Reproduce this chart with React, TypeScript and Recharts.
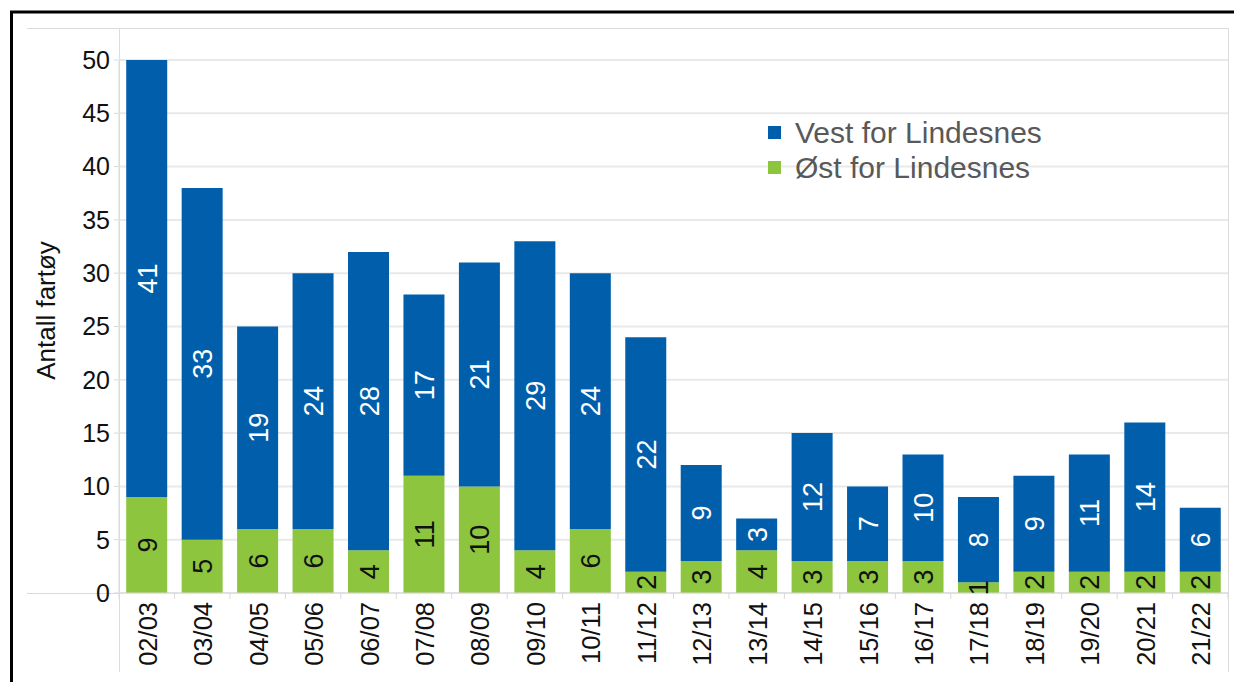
import { Bar, BarChart, CartesianGrid, LabelList, XAxis, YAxis } from 'recharts';

const seasons = [
  '02/03', '03/04', '04/05', '05/06', '06/07', '07/08', '08/09', '09/10', '10/11', '11/12',
  '12/13', '13/14', '14/15', '15/16', '16/17', '17/18', '18/19', '19/20', '20/21', '21/22',
];
const vest = [41, 33, 19, 24, 28, 17, 21, 29, 24, 22, 9, 3, 12, 7, 10, 8, 9, 11, 14, 6];
const ost = [9, 5, 6, 6, 4, 11, 10, 4, 6, 2, 3, 4, 3, 3, 3, 1, 2, 2, 2, 2];
const yTicks = [0, 5, 10, 15, 20, 25, 30, 35, 40, 45, 50];

const data = seasons.map((s, i) => ({ season: s, vest: vest[i], ost: ost[i] }));

const BLUE = '#005EAB';
const GREEN = '#8DC53F';
const FONT = '"Liberation Sans", Arial, sans-serif';

const W = 1234;
const H = 682;
const X_AXIS_H = 89;
const Y_AXIS_W = 119;
const margin = { top: 60, right: 6, bottom: 0, left: 0 };
const band = (W - margin.right - Y_AXIS_W) / seasons.length;

const SeasonTick = (props: any) => {
  const { x, y, payload, index } = props;
  const left = x - band / 2;
  return (
    <g>
      <line x1={left} y1={y - 8} x2={left} y2={y - 2} stroke='#d9d9d9' />
      {index === seasons.length - 1 && (
        <line x1={left + band} y1={y - 8} x2={left + band} y2={y - 2} stroke='#d9d9d9' />
      )}
      <text
        transform={`translate(${x + 10},${y + 1}) rotate(-90)`}
        textAnchor='end'
        fontSize={25.5}
        fontFamily={FONT}
        fill='#111'
      >
        {payload.value}
      </text>
    </g>
  );
};

const segLabel = (color: string) => (props: any) => {
  const { x, y, width, height, value } = props;
  const cx = x + width / 2;
  const cy = y + height / 2;
  return (
    <text
      transform={`translate(${cx + 1},${cy}) rotate(-90)`}
      textAnchor='middle'
      dominantBaseline='central'
      fontSize={27}
      fontFamily={FONT}
      fill={color}
    >
      {value}
    </text>
  );
};

const legendItems = [
  { name: 'Vest for Lindesnes', color: BLUE },
  { name: 'Øst for Lindesnes', color: GREEN },
];

const LegendBox = () => (
  <div style={{ position: 'absolute', left: 768, top: 115, fontFamily: FONT, fontSize: 30, color: '#595959' }}>
    {legendItems.map((it) => (
      <div key={it.name} style={{ display: 'flex', alignItems: 'center', height: 35 }}>
        <span style={{ width: 13, height: 13, background: it.color, marginRight: 14, display: 'inline-block' }} />
        <span>{it.name}</span>
      </div>
    ))}
  </div>
);

const YLabel = (props: any) => {
  const { viewBox } = props;
  const cy = viewBox.y + viewBox.height / 2 - 16;
  return (
    <text
      transform={`translate(55,${cy}) rotate(-90)`}
      textAnchor='middle'
      fontSize={26}
      fontFamily={FONT}
      fill='#111'
    >
      Antall fartøy
    </text>
  );
};

export default function App() {
  return (
    <div style={{ position: 'absolute', left: 0, top: 0, width: W, height: H, background: '#fff', overflow: 'hidden' }}>
      <svg width={W} height={H} style={{ position: 'absolute', left: 0, top: 0 }}>
        <line x1={10} y1={12} x2={W} y2={12} stroke='#000' strokeWidth={3} />
        <line x1={11.5} y1={11} x2={11.5} y2={H} stroke='#000' strokeWidth={3} />
        <line x1={27} y1={28.5} x2={1228.5} y2={28.5} stroke='#dcdcdc' />
        <line x1={1228.5} y1={28} x2={1228.5} y2={672} stroke='#dcdcdc' />
        <line x1={119.5} y1={28} x2={119.5} y2={672} stroke='#dcdcdc' />
        <line x1={27} y1={593.5} x2={1228} y2={593.5} stroke='#d9d9d9' />
      </svg>
      <div style={{ position: 'absolute', left: 0, top: 0 }}>
        <BarChart width={W} height={H} data={data} margin={margin} barCategoryGap='13%'>
          <CartesianGrid vertical={false} stroke='#e9e9e9' strokeWidth={2} />
          <XAxis
            dataKey='season'
            interval={0}
            tickLine={false}
            axisLine={{ stroke: '#d9d9d9' }}
            tick={<SeasonTick />}
            height={X_AXIS_H}
          />
          <YAxis
            width={Y_AXIS_W}
            domain={[0, 50]}
            ticks={yTicks}
            interval={0}
            tickSize={5}
            tickMargin={4}
            tickLine={{ stroke: '#d9d9d9' }}
            axisLine={{ stroke: '#d9d9d9' }}
            tick={{ fontSize: 25, fontFamily: FONT, fill: '#111' }}
            label={{ content: <YLabel /> }}
          />
          <Bar dataKey='ost' name='Øst for Lindesnes' stackId='a' fill={GREEN} isAnimationActive={false}>
            <LabelList dataKey='ost' content={segLabel('#111')} />
          </Bar>
          <Bar dataKey='vest' name='Vest for Lindesnes' stackId='a' fill={BLUE} isAnimationActive={false}>
            <LabelList dataKey='vest' content={segLabel('#fff')} />
          </Bar>
        </BarChart>
      </div>
      <LegendBox />
    </div>
  );
}
